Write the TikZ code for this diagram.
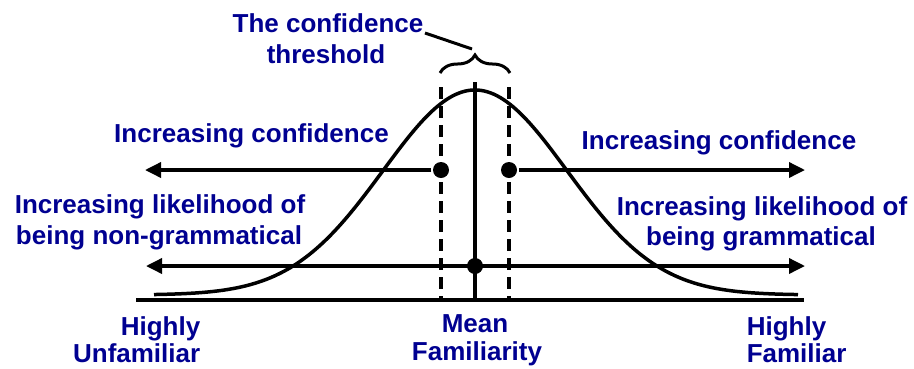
\documentclass[tikz,border=0pt]{standalone}
\usepackage{fontspec}
\setmainfont{Liberation Sans}
\usetikzlibrary{arrows.meta,decorations.pathreplacing}
\definecolor{lbl}{RGB}{0,0,145}
\begin{document}
\begin{tikzpicture}[x=1pt,y=-1pt,
  line width=3.5pt,
  lab/.style={font=\fontsize{26}{30}\selectfont\bfseries, text=lbl, inner sep=0pt, anchor=base},
  dot/.style={circle, fill=black, inner sep=0pt, minimum size=16pt},
  arr/.style={-{Triangle[length=16pt,width=15pt]}},
  dbl/.style={{Triangle[length=16pt,width=15pt]}-{Triangle[length=16pt,width=15pt]}},
  dsh/.style={dash pattern=on 12pt off 7pt}]
\useasboundingbox (0,0) rectangle (914,368);
% baseline
\coordinate (b0) at (136,300);
\coordinate (b1) at (804,300);
\draw[line width=4pt] (b0) -- (b1);
% bell curve
\draw plot[domain=154:798, samples=200, smooth] (\x, {295-205*exp(-((\x-475)/92)*((\x-475)/92)/2)});
% vertical lines
\coordinate (mTop) at (475,82);
\coordinate (mBot) at (475,300);
\draw (mTop) -- (mBot);
\coordinate (lTop) at (441,87);
\coordinate (lBot) at (441,300);
\coordinate (rTop) at (509,87);
\coordinate (rBot) at (509,300);
\draw[dsh] (lTop) -- (lBot);
\draw[dsh] (rTop) -- (rBot);
% brace
\coordinate (brL) at (440,73);
\coordinate (brR) at (510,73);
\draw[line width=3pt, decorate, decoration={brace, amplitude=18pt}] (brL) -- (brR);
% upper arrows
\node[dot] (dL) at (441,170) {};
\node[dot] (dR) at (509,170) {};
\coordinate (aL) at (145,170);
\coordinate (aR) at (805,170);
\draw[arr] (dL) -- (aL);
\draw[arr] (dR) -- (aR);
% lower arrow
\coordinate (lowL) at (146,266);
\coordinate (lowR) at (805,266);
\draw[dbl] (lowL) -- (lowR);
\node[dot] (dM) at (475,266) {};
% labels
\node[lab] (thr1) at (328,32) {The confidence};
\node[lab] (thr2) at (326,63) {threshold};
\coordinate (lnA) at (425,33);
\coordinate (lnB) at (472,49);
\draw[line width=3pt] (lnA) -- (lnB);
\node[lab] (icL) at (251.5,142) {Increasing confidence};
\node[lab] (icR) at (719,149) {Increasing confidence};
\node[lab] (ilL1) at (160,213) {Increasing likelihood of};
\node[lab] (ilL2) at (159,244) {being non-grammatical};
\node[lab] (ilR1) at (762,215) {Increasing likelihood of};
\node[lab] (ilR2) at (761,245) {being grammatical};
\node[lab, anchor=base east] (hu1) at (202,335) {Highly};
\node[lab, anchor=base east] (hu2) at (202,362) {Unfamiliar};
\node[lab] (mf1) at (475,332) {Mean};
\node[lab] (mf2) at (477,360) {Familiarity};
\node[lab, anchor=base west] (hf1) at (745,335) {Highly};
\node[lab, anchor=base west] (hf2) at (745,362) {Familiar};
\end{tikzpicture}
\end{document}
